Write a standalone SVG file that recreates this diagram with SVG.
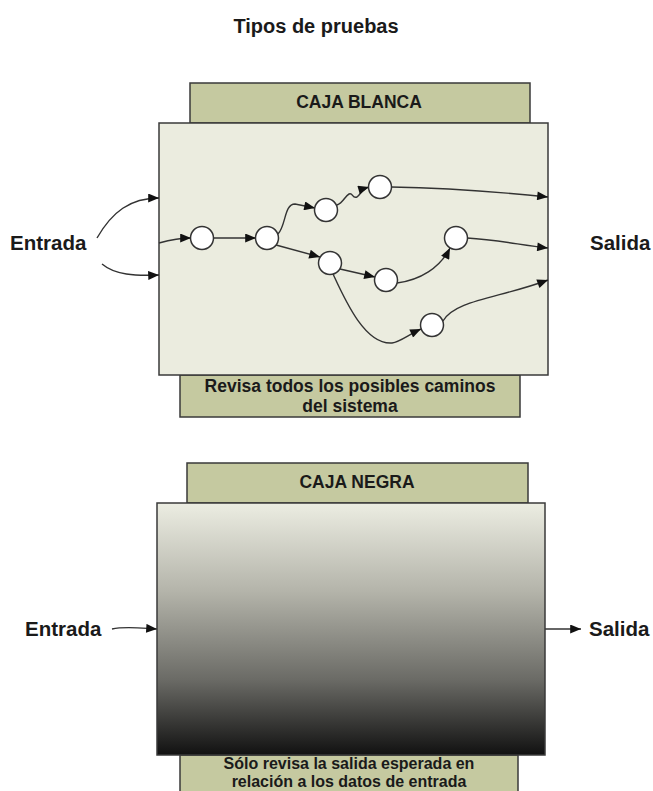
<svg xmlns="http://www.w3.org/2000/svg" width="653" height="791" viewBox="0 0 653 791">
<defs>
<style>
.t{font-family:"Liberation Sans",Arial,sans-serif;font-weight:bold;fill:#1a1a1a}
.hdr{fill:#c5c9a0;stroke:#3a3a3a;stroke-width:1.5}
.box{stroke:#3a3a3a;stroke-width:1.5}
.nd{fill:#ffffff;stroke:#333;stroke-width:1.5}
.c{fill:none;stroke:#333;stroke-width:1.4}
</style>
<marker id="ah" viewBox="0 0 12 10" refX="12" refY="5" markerWidth="12" markerHeight="9" markerUnits="userSpaceOnUse" orient="auto">
<path d="M0,0 L12,5 L0,10 z" fill="#111"/>
</marker>
<linearGradient id="dark" x1="0" y1="0" x2="0" y2="1">
<stop offset="0" stop-color="#ecede2"/>
<stop offset="0.35" stop-color="#b4b4aa"/>
<stop offset="0.7" stop-color="#6b6b66"/>
<stop offset="1" stop-color="#111111"/>
</linearGradient>
</defs>
<rect width="653" height="791" fill="#ffffff"/>
<text class="t" x="316" y="33" font-size="20" text-anchor="middle">Tipos de pruebas</text>

<g id="caja-blanca">
<rect class="hdr" x="190" y="83" width="340" height="40"/>
<text class="t" x="359" y="108" font-size="17.5" text-anchor="middle">CAJA BLANCA</text>
<rect class="hdr" x="180" y="375" width="340" height="42"/>
<text class="t" x="350" y="392" font-size="17.5" text-anchor="middle">Revisa todos los posibles caminos</text>
<text class="t" x="350" y="412" font-size="17.5" text-anchor="middle">del sistema</text>
<rect class="box" x="159" y="123" width="389" height="252" fill="#ebecdf"/>
</g>

<g id="labels-top">
<text class="t" x="10" y="250" font-size="20.5">Entrada</text>
<text class="t" x="590" y="250" font-size="20.5">Salida</text>
</g>

<g id="connectors">
<path class="c" d="M97,238 C112,212 130,198 159,198" marker-end="url(#ah)"/>
<path class="c" d="M102,264 C115,275 135,276 159,275" marker-end="url(#ah)"/>
<path class="c" d="M159,243 C170,240 180,238 191,238" marker-end="url(#ah)"/>
<path class="c" d="M213,238 L256,238" marker-end="url(#ah)"/>
<path class="c" d="M278,234 C286,226 284,204 295,204 L315,208" marker-end="url(#ah)"/>
<path class="c" d="M337,205 C343,203 345,196 349,194 C353,192 352,199 357,197 C361,194 362,189 369,187" marker-end="url(#ah)"/>
<path class="c" d="M391,187 C450,188 500,192 548,197" marker-end="url(#ah)"/>
<path class="c" d="M276,245 L320,257" marker-end="url(#ah)"/>
<path class="c" d="M340,269 L375,277" marker-end="url(#ah)"/>
<path class="c" d="M397,283 C420,280 440,268 450,248" marker-end="url(#ah)"/>
<path class="c" d="M467,238 C500,240 520,245 548,248" marker-end="url(#ah)"/>
<path class="c" d="M333,274 C345,300 365,345 392,343 C400,342 408,335 421,329" marker-end="url(#ah)"/>
<path class="c" d="M443,321 C455,300 500,298 548,280" marker-end="url(#ah)"/>
<path class="c" d="M112,629 C125,626 140,628 157,629" marker-end="url(#ah)"/>
<path class="c" d="M545,629 L581,629" marker-end="url(#ah)"/>
</g>

<g id="n1"><circle class="nd" cx="202" cy="238" r="11.5"/></g>
<g id="n2"><circle class="nd" cx="267" cy="238" r="11.5"/></g>
<g id="n3"><circle class="nd" cx="326" cy="210" r="11.5"/></g>
<g id="n4"><circle class="nd" cx="380" cy="187" r="11.5"/></g>
<g id="n5"><circle class="nd" cx="330" cy="263" r="11.5"/></g>
<g id="n6"><circle class="nd" cx="386" cy="280" r="11.5"/></g>
<g id="n7"><circle class="nd" cx="456" cy="238" r="11.5"/></g>
<g id="n8"><circle class="nd" cx="432" cy="325" r="11.5"/></g>

<g id="caja-negra">
<rect class="hdr" x="187" y="463" width="341" height="40"/>
<text class="t" x="357" y="488" font-size="17.5" text-anchor="middle">CAJA NEGRA</text>
<rect class="hdr" x="180" y="755" width="338" height="45"/>
<text class="t" x="349" y="769" font-size="16" text-anchor="middle">Sólo revisa la salida esperada en</text>
<text class="t" x="349" y="787" font-size="16" text-anchor="middle">relación a los datos de entrada</text>
<rect class="box" x="157" y="503" width="388" height="252" fill="url(#dark)"/>
</g>

<g id="labels-bottom">
<text class="t" x="25" y="636" font-size="20.5">Entrada</text>
<text class="t" x="589" y="636" font-size="20.5">Salida</text>
</g>
</svg>
